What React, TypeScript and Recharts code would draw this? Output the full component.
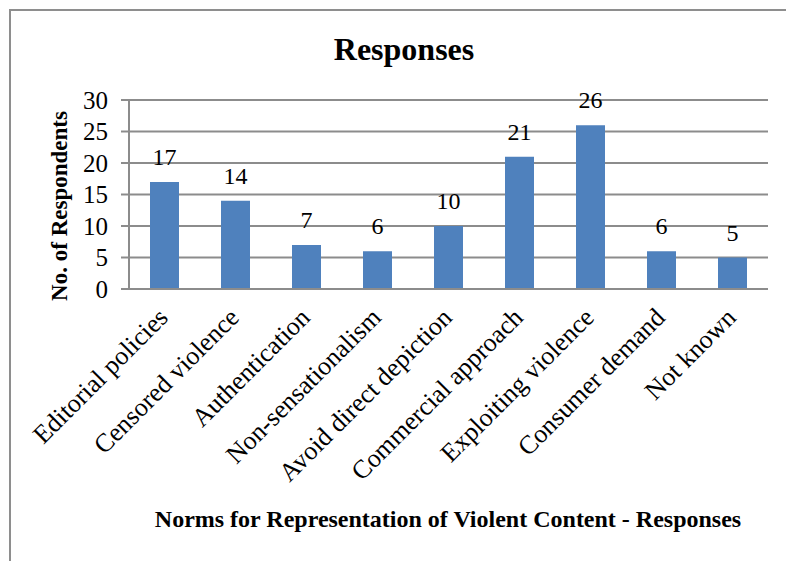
import { BarChart, Bar, XAxis, YAxis, CartesianGrid, LabelList } from 'recharts';

const categories = [
  'Editorial policies',
  'Censored violence',
  'Authentication',
  'Non-sensationalism',
  'Avoid direct depiction',
  'Commercial approach',
  'Exploiting violence',
  'Consumer demand',
  'Not known',
];
const responses = [17, 14, 7, 6, 10, 21, 26, 6, 5];
const yTicks = [0, 5, 10, 15, 20, 25, 30];

const data = categories.map((name, i) => ({ name, value: responses[i] }));

const SERIF = '"Liberation Serif", "Times New Roman", serif';
const GRID = '#8c8c8c';

// rotated category labels, right end pinned just below the axis
const CategoryTick = ({ x, y, payload }: any) => (
  <g transform={`translate(${x + 5},${y + 30})`}>
    <text textAnchor="end" transform="rotate(-45)" fontFamily={SERIF} fontSize={26} fill="#000">
      {payload.value}
    </text>
  </g>
);

const YTitle = () => (
  <text
    x={59}
    y={206}
    transform="rotate(-90 59 206)"
    textAnchor="middle"
    dominantBaseline="central"
    fontFamily={SERIF}
    fontWeight="bold"
    fontSize={23}
    fill="#000"
  >
    No. of Respondents
  </text>
);

export default function App() {
  return (
    <div style={{ position: 'absolute', left: 0, top: 0, width: 786, height: 561, overflow: 'hidden', background: '#fff' }}>
      <div style={{ position: 'absolute', left: 9, top: 9, width: 900, height: 700, border: '2px solid #8e8e8e' }} />
      <div style={{ position: 'absolute', left: 0, top: 0 }}>
        <BarChart width={786} height={561} data={data} margin={{ top: 100, right: 18, left: 10, bottom: 242 }}>
          <text x={404} y={60} textAnchor="middle" fontFamily={SERIF} fontWeight="bold" fontSize={32} fill="#000">
            Responses
          </text>
          <CartesianGrid vertical={false} stroke={GRID} strokeWidth={2} />
          <XAxis
            dataKey="name"
            height={30}
            interval={0}
            tickLine={false}
            tickSize={0}
            tickMargin={0}
            axisLine={{ stroke: GRID, strokeWidth: 2 }}
            tick={<CategoryTick />}
          />
          <YAxis
            width={119}
            domain={[0, 30]}
            ticks={yTicks}
            interval={0}
            tickSize={8}
            tickMargin={13}
            tickLine={{ stroke: GRID, strokeWidth: 2 }}
            axisLine={{ stroke: GRID, strokeWidth: 2 }}
            tick={{ fontFamily: SERIF, fontSize: 25, fill: '#000' }}
            label={<YTitle />}
          />
          <Bar dataKey="value" fill="#4f81bd" barSize={29} isAnimationActive={false}>
            <LabelList dataKey="value" position="top" offset={17} fontFamily={SERIF} fontSize={24} fill="#000" />
          </Bar>
          <text x={448} y={527} textAnchor="middle" fontFamily={SERIF} fontWeight="bold" fontSize={24} fill="#000">
            Norms for Representation of Violent Content - Responses
          </text>
        </BarChart>
      </div>
    </div>
  );
}
